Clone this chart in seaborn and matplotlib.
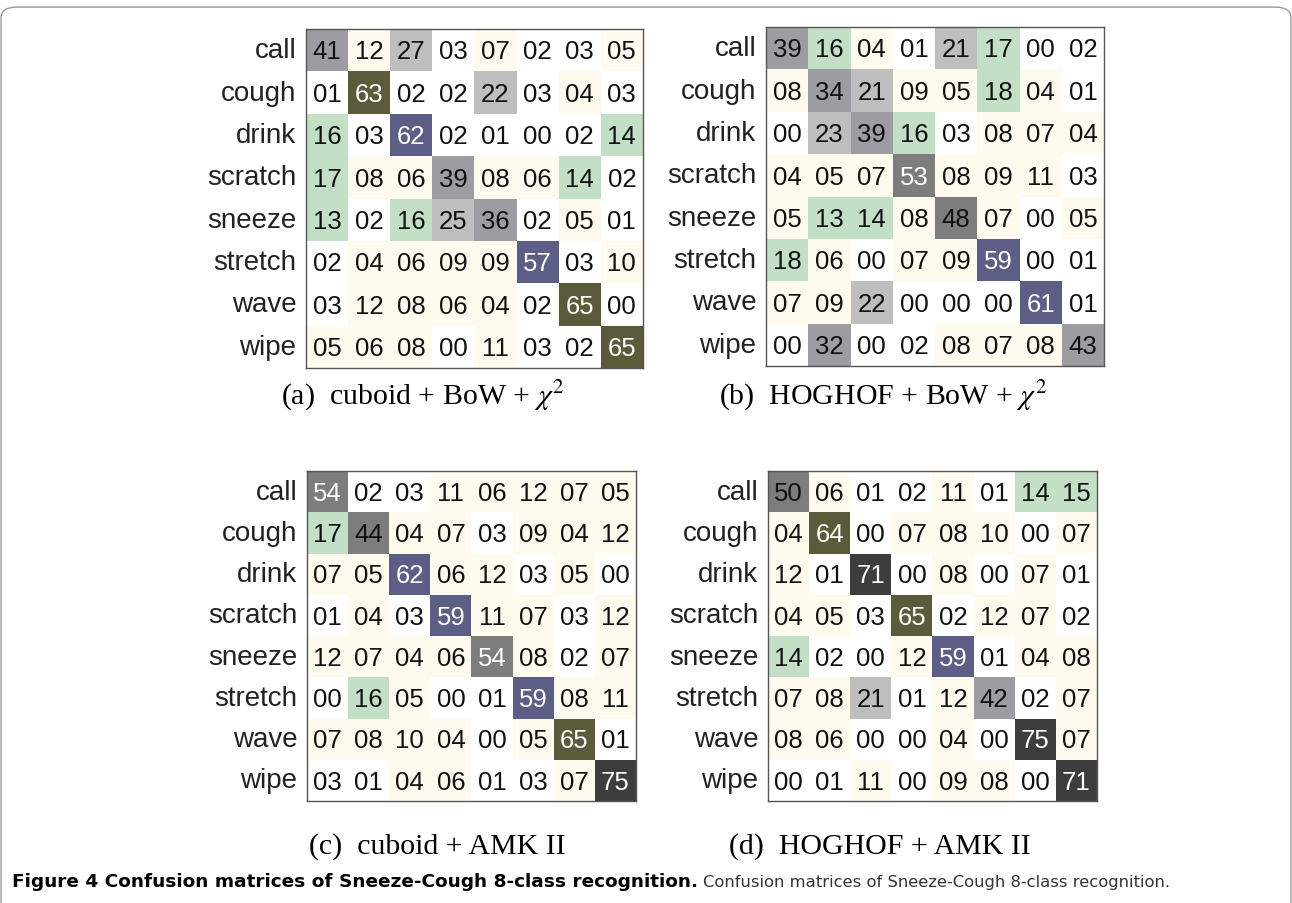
import numpy as np
import pandas as pd
import seaborn as sns
import matplotlib.pyplot as plt
from matplotlib.colors import ListedColormap, BoundaryNorm
from matplotlib.patches import FancyBboxPatch

classes = ['call', 'cough', 'drink', 'scratch', 'sneeze', 'stretch', 'wave', 'wipe']

cuboid_bow = [
    [41, 12, 27, 3, 7, 2, 3, 5],
    [1, 63, 2, 2, 22, 3, 4, 3],
    [16, 3, 62, 2, 1, 0, 2, 14],
    [17, 8, 6, 39, 8, 6, 14, 2],
    [13, 2, 16, 25, 36, 2, 5, 1],
    [2, 4, 6, 9, 9, 57, 3, 10],
    [3, 12, 8, 6, 4, 2, 65, 0],
    [5, 6, 8, 0, 11, 3, 2, 65],
]
hoghof_bow = [
    [39, 16, 4, 1, 21, 17, 0, 2],
    [8, 34, 21, 9, 5, 18, 4, 1],
    [0, 23, 39, 16, 3, 8, 7, 4],
    [4, 5, 7, 53, 8, 9, 11, 3],
    [5, 13, 14, 8, 48, 7, 0, 5],
    [18, 6, 0, 7, 9, 59, 0, 1],
    [7, 9, 22, 0, 0, 0, 61, 1],
    [0, 32, 0, 2, 8, 7, 8, 43],
]
cuboid_amk = [
    [54, 2, 3, 11, 6, 12, 7, 5],
    [17, 44, 4, 7, 3, 9, 4, 12],
    [7, 5, 62, 6, 12, 3, 5, 0],
    [1, 4, 3, 59, 11, 7, 3, 12],
    [12, 7, 4, 6, 54, 8, 2, 7],
    [0, 16, 5, 0, 1, 59, 8, 11],
    [7, 8, 10, 4, 0, 5, 65, 1],
    [3, 1, 4, 6, 1, 3, 7, 75],
]
hoghof_amk = [
    [50, 6, 1, 2, 11, 1, 14, 15],
    [4, 64, 0, 7, 8, 10, 0, 7],
    [12, 1, 71, 0, 8, 0, 7, 1],
    [4, 5, 3, 65, 2, 12, 7, 2],
    [14, 2, 0, 12, 59, 1, 4, 8],
    [7, 8, 21, 1, 12, 42, 2, 7],
    [8, 6, 0, 0, 4, 0, 75, 7],
    [0, 1, 11, 0, 9, 8, 0, 71],
]

subtitles = [r'(a)  cuboid + BoW + $\chi^2$', r'(b)  HOGHOF + BoW + $\chi^2$',
             '(c)  cuboid + AMK II', '(d)  HOGHOF + AMK II']

# stepped colormap like the paper
bounds = [0, 3.5, 12.5, 19.5, 30, 43.5, 55, 62.5, 68, 101]
colors = ['#ffffff', '#fefaee', '#c3dfc6', '#bebebe', '#9c9ca2',
          '#7d7d7d', '#5d5e85', '#5a5b3b', '#3d3d3d']
cmap = ListedColormap(colors)
norm = BoundaryNorm(bounds, cmap.N)

plt.rcParams['mathtext.fontset'] = 'stix'

fig = plt.figure(figsize=(12.92, 9.04), dpi=100)

positions = [
    [0.2368, 0.5918, 0.2608, 0.375],
    [0.5929, 0.5940, 0.2616, 0.375],
    [0.2376, 0.1128, 0.2546, 0.365],
    [0.5944, 0.1128, 0.2546, 0.365],
]
sub_xy = [(0.3274, 0.562), (0.6838, 0.562), (0.3386, 0.064), (0.6811, 0.064)]

for mat, pos, title, (tx, ty) in zip([cuboid_bow, hoghof_bow, cuboid_amk, hoghof_amk],
                                     positions, subtitles, sub_xy):
    df = pd.DataFrame(mat, index=classes, columns=classes)
    ax = fig.add_axes(pos)
    sns.heatmap(df, ax=ax, cmap=cmap, norm=norm, cbar=False, annot=False,
                xticklabels=False, yticklabels=True)
    vals = df.values
    for i in range(vals.shape[0]):
        for j in range(vals.shape[1]):
            v = vals[i, j]
            ax.text(j + 0.5, i + 0.53, '%02d' % v, ha='center', va='center',
                    fontsize=18.5, family='Liberation Sans',
                    color='white' if v >= 52 else '#111111')
    ax.tick_params(axis='y', length=0, pad=7, labelsize=20)
    for lab in ax.get_yticklabels():
        lab.set_family('Liberation Sans')
        lab.set_rotation(0)
        lab.set_color('#222222')
    for s in ax.spines.values():
        s.set_visible(True)
        s.set_color('#555555')
        s.set_linewidth(1.0)
    fig.text(tx, ty, title, ha='center', va='center', fontsize=21.5,
             family='Liberation Serif')

# outer frame
frame = FancyBboxPatch((0.0008, -0.05), 0.9984, 0.041 + 1.0, transform=fig.transFigure,
                       boxstyle='round,pad=0,rounding_size=0.012',
                       facecolor='none', edgecolor='#9a9a9a', linewidth=1.0)
fig.patches.append(frame)

# caption: bold part then regular part
t1 = fig.text(0.0093, 0.0243, 'Figure 4 Confusion matrices of Sneeze-Cough 8-class recognition.',
              fontsize=13.3, fontweight='bold', family='DejaVu Sans', va='center', ha='left')
fig.canvas.draw()
bb = t1.get_window_extent(fig.canvas.get_renderer())
x2 = (bb.x1 + 5) / fig.bbox.width
fig.text(x2, 0.0243, 'Confusion matrices of Sneeze-Cough 8-class recognition.',
         fontsize=11.8, family='DejaVu Sans', va='center', ha='left', color='#333333')

fig.savefig('out.png', dpi=100)
